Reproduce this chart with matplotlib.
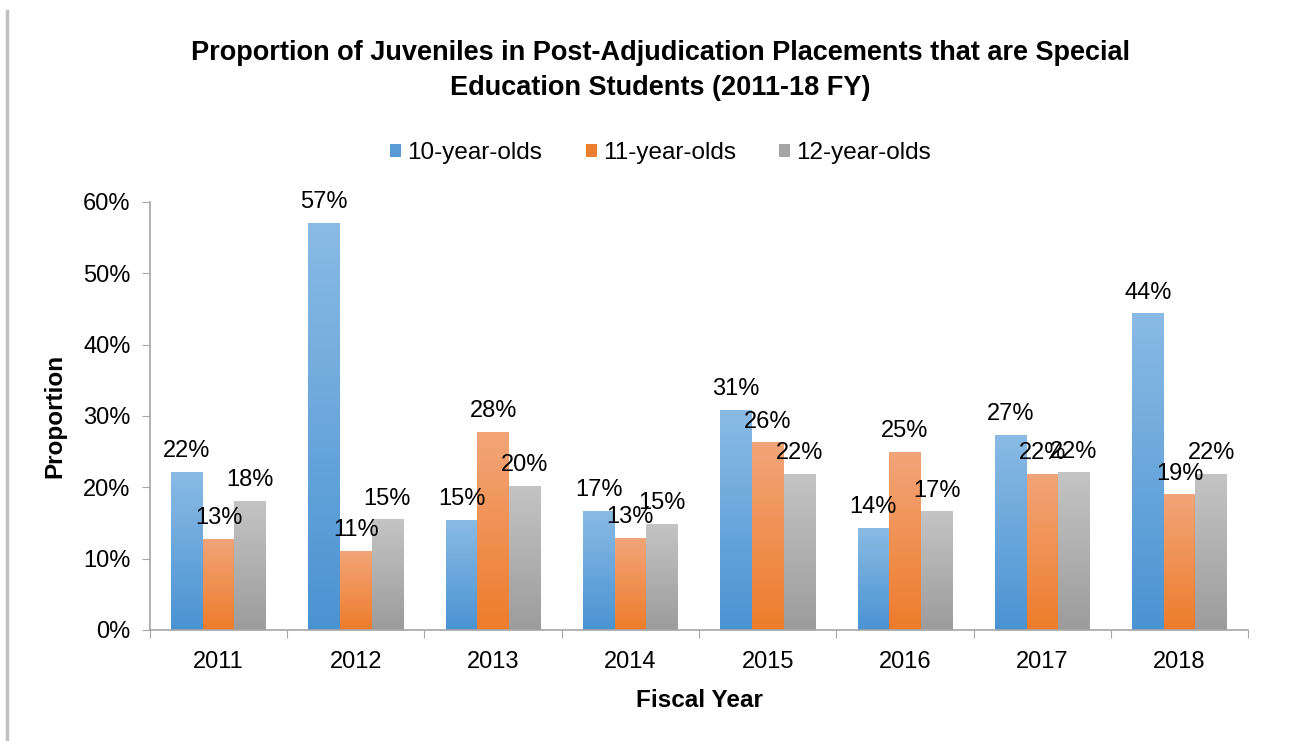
import numpy as np
import matplotlib
matplotlib.use("Agg")
import matplotlib.pyplot as plt
from matplotlib.colors import LinearSegmentedColormap
from matplotlib.patches import Patch
from matplotlib.lines import Line2D

# Data
years = ["2011", "2012", "2013", "2014", "2015", "2016", "2017", "2018"]
series_names = ["10-year-olds", "11-year-olds", "12-year-olds"]
age10 = [22.2, 57.1, 15.4, 16.7, 30.8, 14.3, 27.3, 44.4]
age11 = [12.8, 11.1, 27.8, 12.9, 26.3, 25.0, 21.9, 19.0]
age12 = [18.1, 15.5, 20.2, 14.9, 21.9, 16.6, 22.1, 21.9]
labels10 = ["22%", "57%", "15%", "17%", "31%", "14%", "27%", "44%"]
labels11 = ["13%", "11%", "28%", "13%", "26%", "25%", "22%", "19%"]
labels12 = ["18%", "15%", "20%", "15%", "22%", "17%", "22%", "22%"]

# (top, bottom, legend) colours per series
colors = [("#8abbe4", "#4a93d3", "#5b9bd5"),
          ("#f2a579", "#ee7c2b", "#ed7d31"),
          ("#c4c4c4", "#9c9c9c", "#a5a5a5")]

plt.rcParams["font.family"] = ["Liberation Sans", "DejaVu Sans"]

fig = plt.figure(figsize=(13.03, 7.41), dpi=100)
ax = fig.add_axes([0.115, 0.15, 0.843, 0.5774])

x = np.arange(len(years))
w = 0.23
values = [age10, age11, age12]
labels = [labels10, labels11, labels12]

for i, (vals, labs) in enumerate(zip(values, labels)):
    top_c, bot_c, _ = colors[i]
    cmap = LinearSegmentedColormap.from_list("g%d" % i, [bot_c, top_c])
    bars = ax.bar(x + (i - 1) * w, np.array(vals) / 100, w, color="none",
                  edgecolor="none", zorder=2)
    for b, lab in zip(bars, labs):
        x0, y0 = b.get_x(), b.get_y()
        x1, y1 = x0 + b.get_width(), y0 + b.get_height()
        grad = np.linspace(0, 1, 256).reshape(-1, 1)
        im = ax.imshow(grad, cmap=cmap, aspect="auto", origin="lower",
                       extent=(x0, x1, y0, y1), zorder=2)
        im.set_clip_path(b)
        ax.annotate(lab, (b.get_x() + b.get_width() / 2, y1),
                    xytext=(0, 7), textcoords="offset points",
                    ha="center", va="bottom", fontsize=17, zorder=3)

ax.set_xlim(-0.5, len(years) - 0.5)
ax.set_ylim(0, 0.6)
ax.set_yticks(np.arange(0, 0.61, 0.1))
ax.set_yticklabels(["%d%%" % v for v in range(0, 61, 10)], fontsize=17)
ax.set_xticks(np.arange(-0.5, len(years), 1.0))
ax.set_xticklabels([])
ax.set_xticks(x, minor=True)
ax.set_xticklabels(years, minor=True, fontsize=17)
ax.tick_params(axis="x", which="minor", length=0, pad=15)
ax.tick_params(axis="x", which="major", length=6, color="#a6a6a6")
ax.tick_params(axis="y", length=6, color="#a6a6a6", pad=8)

for s in ["top", "right"]:
    ax.spines[s].set_visible(False)
for s in ["left", "bottom"]:
    ax.spines[s].set_color("#a6a6a6")
    ax.spines[s].set_linewidth(1.2)

ax.set_xlabel("Fiscal Year", fontsize=17.5, fontweight="bold", labelpad=12)
ax.set_ylabel("Proportion", fontsize=17.5, fontweight="bold", labelpad=12)

fig.text(0.507, 0.905, "Proportion of Juveniles in Post-Adjudication Placements that are Special\nEducation Students (2011-18 FY)",
         ha="center", va="center", fontsize=19.5, fontweight="bold", linespacing=1.42)

handles = [Patch(facecolor=c[2], edgecolor="none") for c in colors]
fig.legend(handles, series_names, loc="center", bbox_to_anchor=(0.507, 0.793),
           ncol=3, frameon=False, fontsize=17.5, handlelength=0.45, handleheight=0.45,
           handletextpad=0.25, columnspacing=1.8)

# thin gray border line on the left edge
fig.add_artist(Line2D([0.0055, 0.0055], [0.0, 0.985], color="#c0c0c0", lw=2.5,
                      transform=fig.transFigure))

fig.savefig("out.png", dpi=100)
